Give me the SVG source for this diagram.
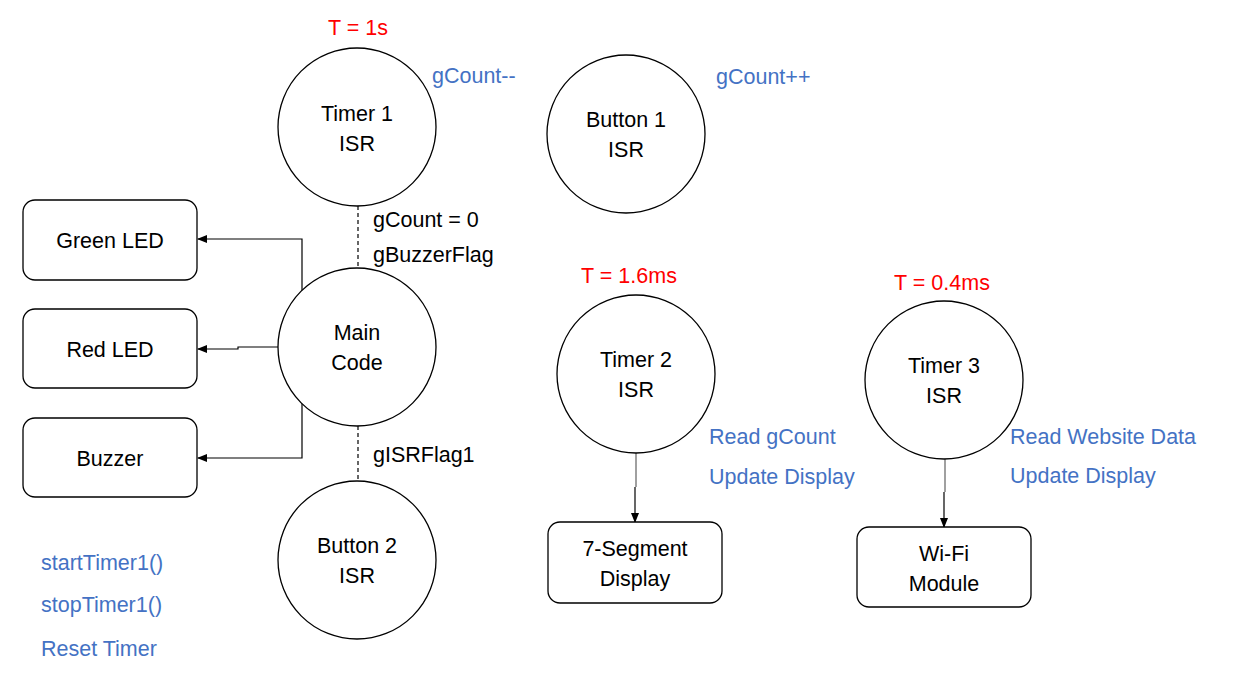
<svg xmlns="http://www.w3.org/2000/svg" width="1233" height="688" viewBox="0 0 1233 688">
<style>
.n{fill:#fff;stroke:#000;stroke-width:1.3}
.t{font-family:"Liberation Sans",Arial,sans-serif;font-size:21.5px;fill:#000}
.c{text-anchor:middle}
.b{fill:#4472C4}
.r{fill:#FF0000}
.l{fill:none;stroke:#000;stroke-width:1.2}
.g{fill:none;stroke:#808080;stroke-width:1.5}
.d{fill:none;stroke:#000;stroke-width:1.2;stroke-dasharray:4 3}
</style>
<defs>
<marker id="a" markerWidth="10" markerHeight="8" refX="9" refY="4" orient="auto" markerUnits="userSpaceOnUse">
<path d="M0,0 L10,4 L0,8 z" fill="#000"/>
</marker>
</defs>
<rect width="1233" height="688" fill="#fff"/>
<g id="connectors">
<polyline class="l" points="302,292 302,239 198,239" marker-end="url(#a)"/>
<polyline class="l" points="278,347 238,347 238,349 198,349" marker-end="url(#a)"/>
<polyline class="l" points="302,402 302,458 198,458" marker-end="url(#a)"/>
<line class="d" x1="358" y1="206" x2="358" y2="268"/>
<line class="d" x1="358" y1="426" x2="358" y2="481"/>
<line class="g" x1="636" y1="453" x2="636" y2="487"/>
<polyline class="l" points="635,487 635,522" marker-end="url(#a)"/>
<line class="g" x1="945" y1="459" x2="945" y2="492"/>
<polyline class="l" points="944,492 944,527" marker-end="url(#a)"/>
</g>
<g id="timer1"><circle class="n" cx="357" cy="127" r="79"/><text class="t c" x="357" y="121">Timer 1</text><text class="t c" x="357" y="151">ISR</text></g>
<g id="button1"><circle class="n" cx="626" cy="134" r="79"/><text class="t c" x="626" y="127">Button 1</text><text class="t c" x="626" y="157">ISR</text></g>
<g id="main"><circle class="n" cx="357" cy="347" r="79"/><text class="t c" x="357" y="340">Main</text><text class="t c" x="357" y="370">Code</text></g>
<g id="button2"><circle class="n" cx="357" cy="560" r="79"/><text class="t c" x="357" y="553">Button 2</text><text class="t c" x="357" y="583">ISR</text></g>
<g id="timer2"><circle class="n" cx="636" cy="374" r="79"/><text class="t c" x="636" y="367">Timer 2</text><text class="t c" x="636" y="397">ISR</text></g>
<g id="timer3"><circle class="n" cx="944" cy="380" r="79"/><text class="t c" x="944" y="373">Timer 3</text><text class="t c" x="944" y="403">ISR</text></g>
<g id="greenled"><rect class="n" x="23" y="200" width="174" height="80" rx="12"/><text class="t c" x="110" y="248">Green LED</text></g>
<g id="redled"><rect class="n" x="23" y="309" width="174" height="79" rx="12"/><text class="t c" x="110" y="357">Red LED</text></g>
<g id="buzzer"><rect class="n" x="23" y="418" width="174" height="79" rx="12"/><text class="t c" x="110" y="466">Buzzer</text></g>
<g id="sevenseg"><rect class="n" x="548" y="522" width="174" height="81" rx="12"/><text class="t c" x="635" y="556">7-Segment</text><text class="t c" x="635" y="586">Display</text></g>
<g id="wifi"><rect class="n" x="857" y="527" width="174" height="80" rx="12"/><text class="t c" x="944" y="561">Wi-Fi</text><text class="t c" x="944" y="591">Module</text></g>
<g id="labels">
<text class="t c r" x="358" y="35">T = 1s</text>
<text class="t b" x="432" y="83">gCount--</text>
<text class="t b" x="716" y="84">gCount++</text>
<text class="t" x="373" y="227">gCount = 0</text>
<text class="t" x="373" y="262">gBuzzerFlag</text>
<text class="t" x="373" y="462">gISRFlag1</text>
<text class="t c r" x="629" y="283">T = 1.6ms</text>
<text class="t c r" x="942" y="290">T = 0.4ms</text>
<text class="t b" x="709" y="444">Read gCount</text>
<text class="t b" x="709" y="484">Update Display</text>
<text class="t b" x="1010" y="444">Read Website Data</text>
<text class="t b" x="1010" y="483">Update Display</text>
<text class="t b" x="41" y="570">startTimer1()</text>
<text class="t b" x="41" y="612">stopTimer1()</text>
<text class="t b" x="41" y="656">Reset Timer</text>
</g>
</svg>
